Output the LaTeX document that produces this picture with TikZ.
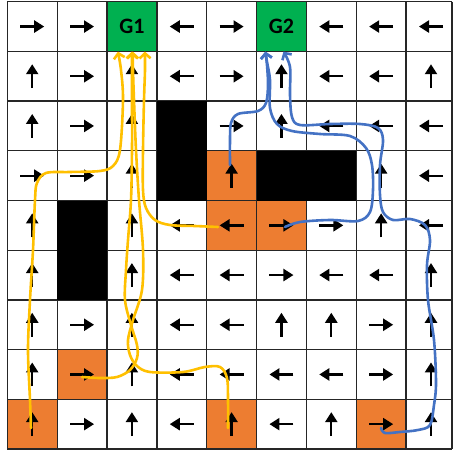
\documentclass[tikz,border=0pt]{standalone}
\usepackage{fontspec}
\setmainfont{Carlito}
\usetikzlibrary{arrows.meta}
\definecolor{goalgreen}{HTML}{00B050}
\definecolor{trapor}{HTML}{ED7D31}
\definecolor{pathyel}{HTML}{FFC000}
\definecolor{pathblu}{HTML}{4472C4}
\begin{document}
\begin{tikzpicture}[x=1pt,y=-1pt,
  cellarrow/.style={line width=2.3pt,-{Triangle[length=10pt,width=12pt]}},
  goal/.style={fill=goalgreen,minimum width=49.85pt,minimum height=49.7pt,inner sep=0pt,font=\fontsize{22}{24}\selectfont\bfseries},
  gridline/.style={line width=1.3pt,black!85},
  route/.style={line width=2.6pt,line cap=round,line join=round,-{Straight Barb[length=5pt,width=11pt]}}]
\useasboundingbox[fill=white] (0,0) rectangle (453,452);
% orange cells
\foreach \c/\r in {4/3,4/4,5/4,1/7,0/8,4/8,7/8}
  \fill[trapor] ({7.3+49.85*\c},{1.7+49.7*\r}) rectangle ++(49.85,49.7);
\node[goal] (g1) at (131.9,26.55) {G1};
\node[goal] (g2) at (281.45,26.55) {G2};
% grid
\foreach \i in {0,...,8}
  \draw[gridline] ({7.3+49.85*\i},1.7) -- ({7.3+49.85*\i},449);
\draw[gridline] (452,1.7) -- (452,449);
\foreach \j in {0,...,9}
  \draw[gridline] (7.3,{1.7+49.7*\j}) -- (452,{1.7+49.7*\j});
% walls
\fill (156.85,101.1) rectangle (206.7,200.5);
\fill (256.55,150.8) rectangle (356.25,200.5);
\fill (57.15,200.5) rectangle (107,299.9);
% policy arrows, one row per line (-1 = none)
\foreach \row [count=\r from 0] in {
  {0,0,-1,180,0,-1,180,180,180},
  {270,0,270,180,0,270,180,180,270},
  {270,0,270,-1,0,270,180,180,180},
  {0,0,270,-1,270,-1,-1,270,180},
  {270,-1,270,180,180,0,0,270,180},
  {270,-1,270,180,180,0,180,180,270},
  {270,0,270,180,180,270,270,0,270},
  {270,0,270,180,180,180,180,0,270},
  {270,0,270,180,270,180,270,0,270}}
  \foreach \a [count=\c from 0] in \row
    {\ifnum\a>-1 \draw[cellarrow] ({32.2+49.85*\c},{26.55+49.7*\r}) ++(\a+180:12) -- ++(\a:24);\fi}
% episode paths
\coordinate (sy1) at (31,428);
\coordinate (sy2) at (82,377);
\coordinate (sy3) at (218,227);
\coordinate (sy4) at (228,428);
\coordinate (sb1) at (230,165);
\coordinate (sb2) at (285,227);
\coordinate (sb3) at (381,428);
\draw[route,pathyel] plot[smooth,tension=0.55] coordinates {(sy1) (30,400) (28,350) (30,300) (33,250) (35,200) (37,183) (46,173) (70,172) (100,171) (113,166) (120,150) (123,100) (121,70) ([xshift=-14pt]g1.south)};
\draw[route,pathyel] plot[smooth,tension=0.55] coordinates {(sy2) (100,378) (117,377) (130,370) (137,358) (137,345) (131,325) (125,300) (126,270) (128,240) (131,200) (132,150) (132,100) (132,70) (g1.south)};
\draw[route,pathyel] plot[smooth,tension=0.55] coordinates {(sy3) (195,226) (170,225) (155,220) (146,208) (143,190) (143,150) (144,100) (145,70) ([xshift=13pt]g1.south)};
\draw[route,pathyel] plot[smooth,tension=0.55] coordinates {(sy4) (228,400) (227,378) (220,367) (205,367) (183,372) (150,372) (137,366) (130,355) (128,340) (133,320) (142,290) (143,250) (139,200) (136,150) (134,100) (133,70) ([xshift=1pt]g1.south)};
\draw[route,pathblu] plot[smooth,tension=0.55] coordinates {(sb1) (230,140) (231,123) (238,114) (258,111) (266,103) (268,85) (267,65) ([xshift=-16pt]g2.south)};
\draw[route,pathblu] plot[smooth,tension=0.55] coordinates {(sb2) (300,222) (330,220) (358,221) (370,212) (373,190) (372,165) (366,148) (350,136) (320,134) (292,131) (277,124) (270,108) (270,80) (267,62) ([xshift=-16pt]g2.south)};
\draw[route,pathblu] plot[smooth,tension=0.55] coordinates {(sb3) (385,433) (400,432) (418,430) (430,425) (434,405) (436,383) (434,340) (428,300) (427,265) (430,240) (425,225) (410,219) (393,220) (383,212) (380,195) (380,165) (383,140) (378,128) (360,124) (330,124) (300,125) (292,117) (290,95) (290,67) ([xshift=2pt]g2.south)};
\end{tikzpicture}
\end{document}
